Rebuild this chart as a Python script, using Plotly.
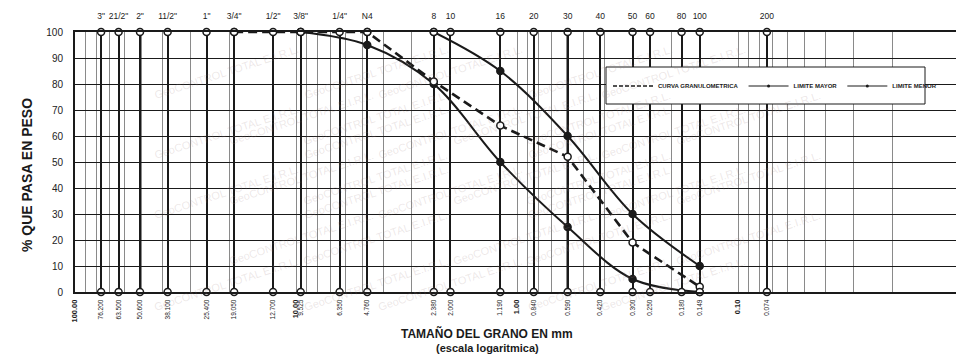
import math
import plotly.graph_objects as go

# Sieve series: opening in mm, sieve designation, printed opening
sieve_mm = [76.2, 63.5, 50.8, 38.1, 25.4, 19.05, 12.7, 9.525, 6.35, 4.76, 2.38, 2.0,
            1.19, 0.84, 0.59, 0.42, 0.30, 0.25, 0.18, 0.149, 0.074]
sieve_names = ['3"', '21/2"', '2"', '11/2"', '1"', '3/4"', '1/2"', '3/8"', '1/4"', 'N4',
               '8', '10', '16', '20', '30', '40', '50', '60', '80', '100', '200']
sieve_labels = ['76.200', '63.500', '50.600', '38.100', '25.400', '19.050', '12.700', '9.525',
                '6.350', '4.760', '2.380', '2.000', '1.190', '0.840', '0.590', '0.420', '0.300',
                '0.250', '0.180', '0.149', '0.074']
decade_mm = [100, 10, 1, 0.1]
decade_labels = ['100.00', '10.00', '1.00', '0.10']

# Grading curve of the sample
curve_mm = [19.05, 9.525, 4.76, 2.38, 1.19, 0.59, 0.30, 0.149]
curve_pct = [100, 100, 100, 81, 64, 52, 19, 2]

# Specification band
upper_mm = [2.38, 1.19, 0.59, 0.30, 0.149]
upper_pct = [100, 85, 60, 30, 10]
lower_mm = [9.525, 4.76, 2.38, 1.19, 0.59, 0.30, 0.149]
lower_pct = [100, 95, 80, 50, 25, 5, 0]

W, H = 956, 364
ML, MR, MT, MB = 75, 0, 32, 72
PW, PH = W - ML - MR, H - MT - MB
PX_PER_DECADE = 221.0
x_range = [2.0, 2.0 - PW / PX_PER_DECADE]


def px(xp):
    return (xp - ML) / PW


def py(yp):
    return (H - MB - yp) / PH


FONT = "Arial, Liberation Sans, sans-serif"
INK = "#1a1a1a"

fig = go.Figure()

# sieve circles along the top and bottom edges
fig.add_trace(go.Scatter(
    x=sieve_mm + sieve_mm,
    y=[100] * len(sieve_mm) + [0] * len(sieve_mm),
    xaxis="x2", mode="markers", showlegend=False, hoverinfo="skip", cliponaxis=False,
    marker=dict(symbol="circle", size=7, color="white", line=dict(color=INK, width=1.5)),
))


def dot_colors(vals):
    return ["white" if v in (0, 100) else INK for v in vals]


fig.add_trace(go.Scatter(
    x=upper_mm, y=upper_pct, mode="lines+markers", showlegend=False, cliponaxis=False,
    line=dict(color=INK, width=2, shape="spline", smoothing=1.0),
    marker=dict(size=7, color=dot_colors(upper_pct), line=dict(color=INK, width=1.5)),
))
fig.add_trace(go.Scatter(
    x=lower_mm, y=lower_pct, mode="lines+markers", showlegend=False, cliponaxis=False,
    line=dict(color=INK, width=2, shape="spline", smoothing=1.0),
    marker=dict(size=7, color=dot_colors(lower_pct), line=dict(color=INK, width=1.5)),
))
fig.add_trace(go.Scatter(
    x=curve_mm, y=curve_pct, mode="lines+markers", showlegend=False, cliponaxis=False,
    line=dict(color=INK, width=2.6, dash="9px,5px"),
    marker=dict(size=7, color="white", line=dict(color=INK, width=1.5)),
))

# legend entries
fig.add_trace(go.Scatter(x=[None], y=[None], mode="lines", name="<b>CURVA GRANULOMETRICA</b>",
                         line=dict(color=INK, width=1.6, dash="4px,2px")))
fig.add_trace(go.Scatter(x=[None], y=[None], mode="lines+markers", name="<b>LIMITE MAYOR</b>",
                         line=dict(color=INK, width=1), marker=dict(size=3, color=INK)))
fig.add_trace(go.Scatter(x=[None], y=[None], mode="lines+markers", name="<b>LIMITE MENOR</b>",
                         line=dict(color=INK, width=1), marker=dict(size=3, color=INK)))

# minor logarithmic grid
minor_vals = [m * 10 ** k for k in range(-2, 3) for m in range(1, 10) if m * 10 ** k <= 100]

bottom_vals = decade_mm + sieve_mm
bottom_text = ["<b><span style='font-size:7.5px'>%s</span></b>" % t for t in decade_labels] + sieve_labels

fig.update_layout(
    width=W, height=H,
    margin=dict(l=ML, r=MR, t=MT, b=MB, pad=0),
    paper_bgcolor="white", plot_bgcolor="white",
    font=dict(family=FONT, color=INK),
    xaxis=dict(
        type="log", range=x_range, autorange=False,
        tickmode="array", tickvals=bottom_vals, ticktext=bottom_text,
        tickangle=-90, tickfont=dict(family=FONT, size=6.5, color=INK), ticks="",
        ticklabelstandoff=3,
        showgrid=True, gridcolor="#8a8a8a", gridwidth=1,
        minor=dict(tickmode="array", tickvals=minor_vals, showgrid=True,
                   gridcolor="#8a8a8a", gridwidth=1, ticks=""),
        showline=True, linecolor=INK, linewidth=2, mirror=True,
        zeroline=False,
    ),
    xaxis2=dict(
        type="log", range=x_range, autorange=False, overlaying="x", side="top",
        tickmode="array", tickvals=sieve_mm, ticktext=sieve_names,
        tickfont=dict(family=FONT, size=8.5, color=INK), ticks="", ticklabelstandoff=10,
        showgrid=True, gridcolor=INK, gridwidth=1.5, zeroline=False,
    ),
    yaxis=dict(
        range=[0, 100], autorange=False, tickmode="array", tickvals=list(range(0, 101, 10)),
        tickfont=dict(family=FONT, size=10, color="#222"), ticks="", ticklabelstandoff=8,
        showgrid=True, gridcolor=INK, gridwidth=1.3,
        showline=True, linecolor=INK, linewidth=2, zeroline=False,
    ),
    showlegend=True,
    legend=dict(
        orientation="h", x=px(608), xanchor="left", y=py(86), yanchor="middle",
        bgcolor="rgba(0,0,0,0)", borderwidth=0, itemwidth=40,
        font=dict(size=6, family=FONT, color=INK),
    ),
    shapes=[dict(type="rect", xref="paper", yref="paper",
                 x0=px(606), x1=px(925), y0=py(104), y1=py(67),
                 line=dict(color=INK, width=1), fillcolor="white", layer="above")],
)

annotations = [
    dict(text="<b>% QUE PASA EN PESO</b>", xref="paper", yref="paper", x=px(17), y=py(175),
         textangle=-90, showarrow=False, font=dict(size=14, color=INK)),
    dict(text="<b>TAMAÑO DEL GRANO EN mm</b>", xref="paper", yref="paper", x=px(487), y=py(343),
         showarrow=False, font=dict(size=12, color=INK)),
    dict(text="<b>(escala logaritmica)</b>", xref="paper", yref="paper", x=px(487), y=py(356),
         showarrow=False, font=dict(size=11, color=INK)),
    dict(text="<b>0.01</b>", xref="x", yref="paper", x=math.log10(0.01), y=py(296),
         yanchor="top", textangle=-90, showarrow=False, xshift=-5,
         font=dict(size=7, color=INK)),
]

# faint watermark across the sheet
for row in range(7):
    for col in range(6):
        xw = 150 + col * 150 + (row % 2) * 75
        yw = 40 + row * 46
        if xw > 860:
            continue
        annotations.append(dict(
            text="GeoCONTROL TOTAL E.I.R.L.", xref="paper", yref="paper",
            x=px(xw), y=py(yw), showarrow=False, textangle=-18,
            font=dict(size=11, color="rgba(160,135,135,0.2)"),
        ))

fig.update_layout(annotations=annotations)

fig.write_html("out.html")
